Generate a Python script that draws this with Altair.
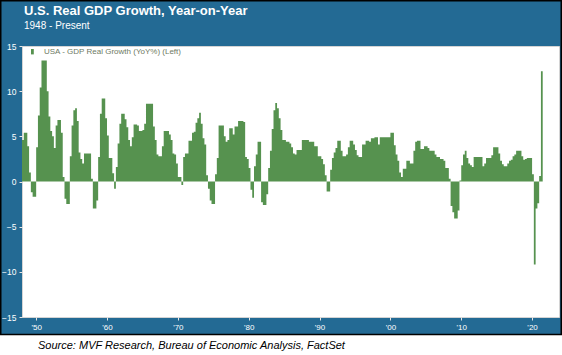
import altair as alt
import pandas as pd

# ---------------- text ----------------
title_text = "U.S. Real GDP Growth, Year-on-Year"
subtitle_text = "1948 - Present"
legend_label = "USA - GDP Real Growth (YoY%) (Left)"
source_text = "Source: MVF Research, Bureau of Economic Analysis, FactSet"

# ---------------- data (quarterly YoY %, starting 1948 Q1) ----------------
start_year = 1948
yoy_1948_1959 = [
    4.6, 5.4, 5.4, 3.9,    1.0, -1.2, -1.7, -1.7,   3.8, 7.3, 10.4, 13.4,
    13.4, 13.4, 10.0, 7.2, 5.6, 5.0, 3.7, 6.2,      6.8, 6.8, 5.4, 0.5,
    -1.9, -2.5, -2.5, 2.8, 6.2, 7.9, 8.1, 6.7,      3.2, 2.5, 2.0, 3.1,
    3.1, 3.1, 3.1, 0.3,    -3.0, -3.0, -2.1, 2.7,   7.5, 9.2, 9.2, 7.0,
]
yoy_1960_1969 = [
    5.1, 2.6, 2.6, 0.9,    -0.8, 1.6, 4.2, 6.4,     7.5, 7.5, 6.9, 6.0,
    4.6, 3.9, 4.9, 6.3,    6.3, 6.2, 5.6, 5.6,      5.7, 6.4, 8.6, 8.6,
    8.6, 8.6, 6.1, 4.6,    3.0, 2.8, 2.8, 3.9,      5.6, 5.6, 5.6, 5.2,
    4.6, 3.1, 3.0, 2.0,
]
yoy_1970_1979 = [
    0.5, 0.5, -0.4, 2.7,   3.1, 3.1, 4.5, 4.5,      5.4, 5.5, 6.5, 7.0,
    7.6, 6.4, 4.8, 4.1,    0.7, -0.8, -2.1, -2.5,   -2.5, 0.8, 2.6, 6.2,
    6.2, 6.2, 5.0, 4.4,    4.6, 5.9, 5.9, 5.2,      6.1, 6.1, 6.7, 6.7,
    6.7, 6.6, 2.7, 2.5,
]
yoy_1980_1989 = [
    1.5, -0.9, -1.8, 1.7,  3.0, 4.4, 4.4, -2.3,     -2.6, -2.6, -1.4, 1.5,
    3.4, 5.8, 7.9, 8.7,    8.1, 7.0, 5.7, 4.6,      4.6, 4.4, 4.4, 4.2,
    3.8, 3.1, 3.0, 3.5,    3.5, 3.5, 4.6, 4.6,      4.6, 4.6, 4.4, 4.4,
    4.4, 3.9, 3.9, 2.8,
]
yoy_1990_1999 = [
    2.8, 2.5, 1.9, 0.7,    -1.1, -1.1, 1.3, 2.6,    3.2, 3.7, 4.5, 4.5,
    3.4, 2.8, 2.8, 3.0,    3.8, 4.5, 4.5, 4.1,      3.5, 2.9, 2.7, 2.7,
    4.1, 4.1, 4.5, 4.5,    4.4, 4.8, 4.8, 4.9,      4.9, 4.1, 4.9, 4.9,
    4.9, 4.9, 4.9, 4.9,
]
yoy_2000_2009 = [
    5.4, 5.4, 4.0, 3.0,    2.3, 1.0, 0.5, 1.4,      1.4, 2.3, 2.3, 2.0,
    2.0, 3.4, 4.4, 4.5,    4.5, 3.6, 3.6, 3.9,      3.9, 3.7, 3.4, 3.4,
    3.4, 3.0, 2.7, 2.7,    2.5, 2.5, 2.3, 1.5,      1.5, 0.3, -2.7, -3.4,
    -4.1, -4.1, -3.2, 0.1,
]
yoy_2010_2021 = [
    1.8, 3.0, 3.4, 2.6,    2.0, 1.8, 1.6, 2.7,      2.7, 2.7, 2.7, 2.7,
    1.7, 2.0, 2.6, 2.6,    2.6, 2.9, 3.8, 3.8,      3.8, 3.1, 2.3, 1.9,
    1.7, 1.7, 2.0, 2.3,    2.4, 2.8, 3.0, 3.4,      3.4, 3.4, 2.8, 2.4,
    2.5, 2.6, 2.6, 2.6,    0.8, -9.2, -3.0, -2.4,   0.6, 12.2,
]

decade_ticks = [1950, 1960, 1970, 1980, 1990, 2000, 2010, 2020]
y_ticks = [-15, -10, -5, 0, 5, 10, 15]

values = (yoy_1948_1959 + yoy_1960_1969 + yoy_1970_1979 + yoy_1980_1989
          + yoy_1990_1999 + yoy_2000_2009 + yoy_2010_2021)
starts = [start_year + i / 4 for i in range(len(values))]
# step edges: each quarter's start, plus the end of the last quarter
edges_x = starts + [starts[-1] + 0.25]
edges_y = values + [values[-1]]
df = pd.DataFrame({"t": edges_x, "yoy": edges_y})

# ---------------- style ----------------
BLUE = "#236A94"
GREEN = "#56924F"
FONT = "Liberation Sans"
W, H = 537, 271

bars = alt.Chart(df).mark_area(color=GREEN, interpolate="step-after", opacity=1).encode(
    x=alt.X("t:Q", title=None,
            scale=alt.Scale(domain=[1948, 2023.8], nice=False, zero=False),
            axis=alt.Axis(values=decade_ticks, labelExpr="\"'\" + slice(toString(datum.value), 2)",
                          domain=False, grid=False, tickColor="#e6e6e6", tickSize=3,
                          labelColor="white", labelFont=FONT, labelFontSize=8,
                          labelPadding=3, labelFlush=False)),
    y=alt.Y("yoy:Q", title=None,
            scale=alt.Scale(domain=[-15, 15], nice=False),
            axis=alt.Axis(values=y_ticks, domain=False, grid=False,
                          tickColor="#e6e6e6", tickSize=3, labelColor="white",
                          labelFont=FONT, labelFontSize=8.5, labelPadding=3)),
    y2=alt.datum(0),
)

one = pd.DataFrame({"a": [0]})

bottom_strip = alt.Chart(one).mark_rect(color="white").encode(
    x=alt.value(-22), x2=alt.value(541), y=alt.value(289), y2=alt.value(310))

border = alt.Chart(one).mark_rect(fillOpacity=0, stroke="black", strokeWidth=1.5).encode(
    x=alt.value(-21.25), x2=alt.value(539.25), y=alt.value(-45.25), y2=alt.value(288.5))

title = alt.Chart(pd.DataFrame({"t": [title_text]})).mark_text(
    align="left", baseline="alphabetic", font=FONT, fontSize=13, fontWeight="bold", color="white"
).encode(x=alt.value(2), y=alt.value(-31), text="t:N")

subtitle = alt.Chart(pd.DataFrame({"t": [subtitle_text]})).mark_text(
    align="left", baseline="alphabetic", font=FONT, fontSize=10, color="white"
).encode(x=alt.value(2), y=alt.value(-17), text="t:N")

legend_sym = alt.Chart(one).mark_rect(color=GREEN).encode(
    x=alt.value(9), x2=alt.value(11.8), y=alt.value(3), y2=alt.value(8.4))

legend_txt = alt.Chart(pd.DataFrame({"t": [legend_label]})).mark_text(
    align="left", baseline="alphabetic", font=FONT, fontSize=8, color="#6e7a64"
).encode(x=alt.value(22), y=alt.value(8.3), text="t:N")

source = alt.Chart(pd.DataFrame({"t": [source_text]})).mark_text(
    align="left", baseline="alphabetic", font=FONT, fontSize=11, fontStyle="italic", color="black"
).encode(x=alt.value(16), y=alt.value(302.5), text="t:N")

chart = alt.layer(bars, bottom_strip, border, title, subtitle, legend_sym, legend_txt, source).properties(
    width=W, height=H,
    padding={"left": 22, "top": 46, "right": 3, "bottom": 38},
    autosize=alt.AutoSizeParams(type="none"),
    background=BLUE,
).configure_view(fill="white", stroke="#d4d4d4", strokeWidth=1)

chart.save("out.html", embed_options={"renderer": "svg", "actions": False})
